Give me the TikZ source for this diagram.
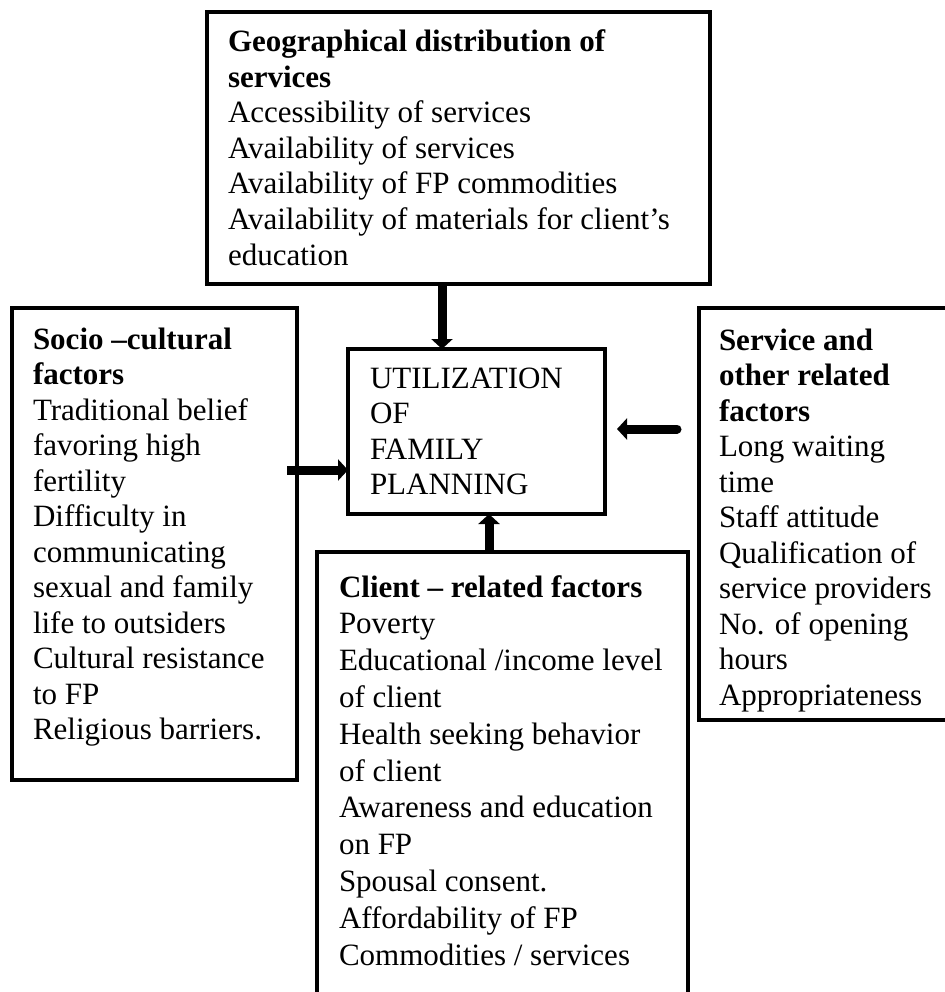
\documentclass[tikz,border=0pt]{standalone}
\usepackage{fontspec}
\setmainfont{Liberation Serif}
\usetikzlibrary{arrows.meta}

\begin{document}
\begin{tikzpicture}[x=1pt,y=1pt,
  box/.style={draw, line width=4pt, rectangle, inner sep=0pt, outer sep=0pt, anchor=north west},
  txt/.style={anchor=north west, inner sep=0pt, outer sep=0pt, align=left,
              font=\fontsize{31}{35.5}\selectfont},
  txtwide/.style={txt, font=\fontsize{31}{36.8}\selectfont},
  arr/.style={line width=9pt, -{Triangle[length=10pt,width=21pt]}}]

% page frame
\useasboundingbox (0,0) rectangle (944,-992);
\fill[white] (0,0) rectangle (944,-992);

% boxes (corner at line centre)
\node[box, minimum width=503pt, minimum height=272pt] (geo)     at (207,-12)  {};
\node[box, minimum width=285pt, minimum height=472pt] (socio)   at (12,-308)  {};
\node[box, minimum width=257pt, minimum height=165pt] (util)    at (348,-349) {};
\node[box, minimum width=250pt, minimum height=412pt] (service) at (699,-308) {};
\node[box, minimum width=371pt, minimum height=446pt] (client)  at (317,-552) {};

% box texts (first baseline sits 0.7\baselineskip below the anchor)
\node[txt] (geoText) at (228,{-52+24.85}) {\strut\textbf{Geographical distribution of}\\
  \textbf{services}\\
  Accessibility of services\\
  Availability of services\\
  Availability of FP commodities\\
  Availability of materials for client’s\\
  education};

\node[txt] (socioText) at (33,{-349+24.85}) {\strut\textbf{Socio –cultural}\\
  \textbf{factors}\\
  Traditional belief\\
  favoring high\\
  fertility\\
  Difficulty in\\
  communicating\\
  sexual and family\\
  life to outsiders\\
  Cultural resistance\\
  to FP\\
  Religious barriers.};

\node[txt] (utilText) at (370,{-388+24.85}) {\strut UTILIZATION\\
  OF\\
  FAMILY\\
  PLANNING};

\node[txt] (serviceText) at (719,{-350+24.85}) {\strut\textbf{Service and}\\
  \textbf{other related}\\
  \textbf{factors}\\
  Long waiting\\
  time\\
  Staff attitude\\
  Qualification of\\
  service providers\\
  No. of opening\\
  hours\\
  Appropriateness};

\node[txtwide] (clientText) at (339,{-597+25.76}) {\strut\textbf{Client – related factors}\\
  Poverty\\
  Educational /income level\\
  of client\\
  Health seeking behavior\\
  of client\\
  Awareness and education\\
  on FP\\
  Spousal consent.\\
  Affordability of FP\\
  Commodities / services};

% arrows into the central box
\coordinate (topX) at (442,0);
\draw[arr] (geo.south -| topX) -- (util.north -| topX);

\coordinate (leftTail) at (287,-470);
\draw[arr] (leftTail) -- (util.west |- leftTail);

\coordinate (rightTail) at (677,-429);
\coordinate (rightHead) at (617,-429);
\draw[arr, line cap=round] (rightTail) -- (rightHead);

\coordinate (botX) at (489,0);
\draw[arr] (client.north -| botX) -- (util.south -| botX);
\end{tikzpicture}
\end{document}
